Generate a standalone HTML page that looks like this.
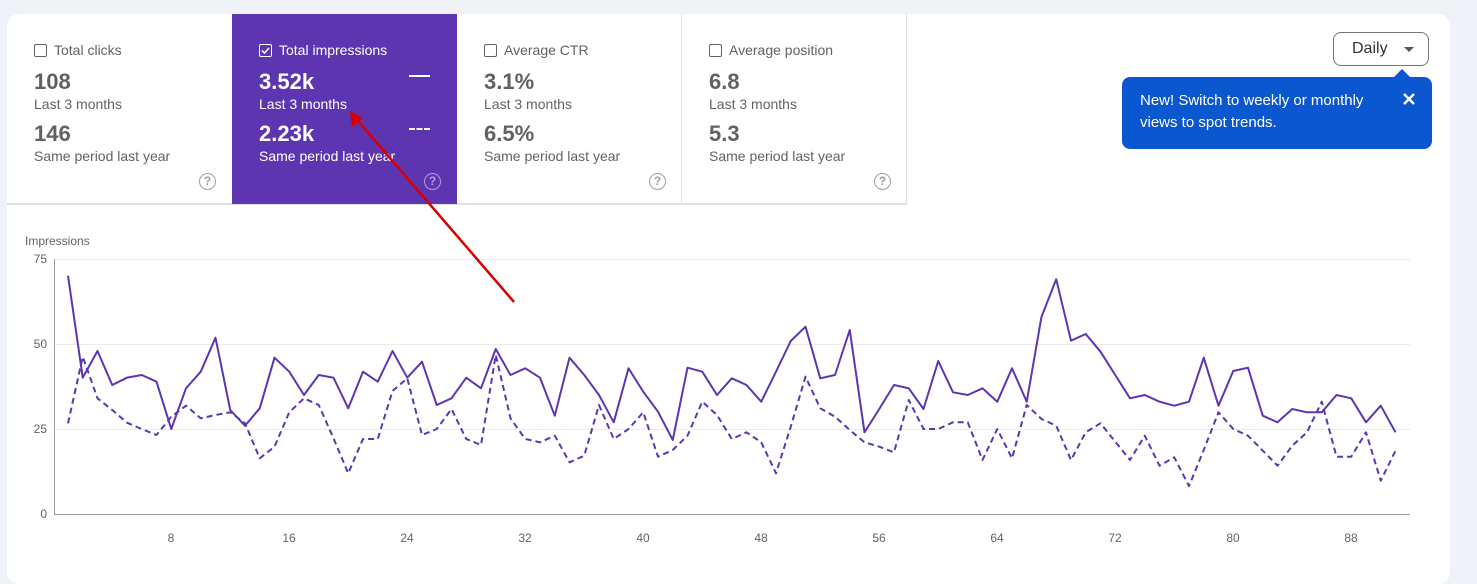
<!DOCTYPE html>
<html><head><meta charset="utf-8"><style>
body{margin:0;width:1477px;height:572px;background:#eff2f7;font-family:"Liberation Sans",Arial,sans-serif;position:relative;overflow:hidden}
.card{position:absolute;left:7px;top:14px;width:1443px;height:570px;background:#fff;border-radius:12px}
.tile{position:absolute;top:14px;height:190px;width:225px;box-sizing:border-box;color:#5f6368}
.t{position:absolute;left:27px;top:28px;font-size:14px;}
.cb{display:inline-block;width:11px;height:11px;border:1.3px solid #5f6368;border-radius:2px;vertical-align:-2px;margin-right:7px}
.n{position:absolute;left:27px;font-size:22px;font-weight:bold;color:#616161}
.l{position:absolute;left:27px;font-size:14px}
.q{position:absolute;left:192px;top:159px;width:15px;height:15px;border:1.6px solid #9e9e9e;border-radius:50%;font-size:12px;font-weight:bold;text-align:center;line-height:15px;color:#9e9e9e}
.pur{background:#5e35b1;color:#fff}
.pur .n,.pur .l{color:#fff}
.pur .cb{border-color:#fff}
</style></head><body>
<div class="card"></div>
<div class="tile" style="left:7px;border-bottom:1px solid #e0e0e0">
 <div class="t"><span class="cb"></span>Total clicks</div>
 <div class="n" style="top:55px">108</div><div class="l" style="top:82px">Last 3 months</div>
 <div class="n" style="top:107px">146</div><div class="l" style="top:134px">Same period last year</div>
 <div class="q">?</div></div>
<div class="tile pur" style="left:232px">
 <div class="t"><span class="cb" style="position:relative"><svg width="11" height="11" style="position:absolute;left:0;top:0"><path d="M2 5.5l2.5 2.5 4.5-5" stroke="#fff" stroke-width="1.5" fill="none"/></svg></span>Total impressions</div>
 <div class="n" style="top:55px">3.52k</div><div class="l" style="top:82px">Last 3 months</div>
 <div class="n" style="top:107px">2.23k</div><div class="l" style="top:134px">Same period last year</div>
 <div style="position:absolute;left:177px;top:61px;width:21px;height:2px;background:#fff"></div>
 <div style="position:absolute;left:177px;top:114px;width:21px;height:0;border-top:2px dashed #fff"></div>
 <div class="q" style="border-color:#b39ddb;color:#b39ddb">?</div></div>
<div class="tile" style="left:457px;border-bottom:1px solid #e0e0e0;border-right:1px solid #e0e0e0">
 <div class="t"><span class="cb"></span>Average CTR</div>
 <div class="n" style="top:55px">3.1%</div><div class="l" style="top:82px">Last 3 months</div>
 <div class="n" style="top:107px">6.5%</div><div class="l" style="top:134px">Same period last year</div>
 <div class="q">?</div></div>
<div class="tile" style="left:682px;border-bottom:1px solid #e0e0e0;border-right:1px solid #e0e0e0">
 <div class="t"><span class="cb"></span>Average position</div>
 <div class="n" style="top:55px">6.8</div><div class="l" style="top:82px">Last 3 months</div>
 <div class="n" style="top:107px">5.3</div><div class="l" style="top:134px">Same period last year</div>
 <div class="q">?</div></div>
<div style="position:absolute;left:7px;top:204px;width:900px;height:1px;background:#e0e0e0"></div>

<div style="position:absolute;left:1333px;top:32px;width:96px;height:34px;border:1px solid #757575;border-radius:8px;box-sizing:border-box;font-size:16px;color:#333;line-height:32px;padding-left:18px">Daily<span style="position:absolute;left:70px;top:14px;width:0;height:0;border-left:5px solid transparent;border-right:5px solid transparent;border-top:5px solid #555"></span></div>
<div style="position:absolute;left:1122px;top:77px;width:310px;height:72px;background:#0b57d0;border-radius:8px;color:#fff;font-size:15px;line-height:22px;box-sizing:border-box;padding:13px 0 0 18px">New! Switch to weekly or monthly<br>views to spot trends.
 <div style="position:absolute;left:272px;top:-8px;width:0;height:0;border-left:8px solid transparent;border-right:8px solid transparent;border-bottom:8px solid #0b57d0"></div>
 <svg style="position:absolute;left:280px;top:15px" width="14" height="14"><path d="M2 2L12 12M12 2L2 12" stroke="#fff" stroke-width="2.4"/></svg></div>

<svg style="position:absolute;left:0;top:0" width="1477" height="572">
 <text x="25" y="245" font-size="12" fill="#5f6368" font-family="Liberation Sans">Impressions</text>
 <g font-size="12" fill="#5f6368" text-anchor="end" font-family="Liberation Sans">
  <text x="47" y="263">75</text><text x="47" y="348">50</text><text x="47" y="433">25</text><text x="47" y="518">0</text></g>
 <g stroke="#ebebeb" stroke-width="1"><line x1="55" y1="259.5" x2="1410" y2="259.5"/><line x1="55" y1="344.5" x2="1410" y2="344.5"/><line x1="55" y1="429.5" x2="1410" y2="429.5"/></g>
 <line x1="54.5" y1="259" x2="54.5" y2="515" stroke="#9e9e9e"/>
 <line x1="54" y1="514.5" x2="1410" y2="514.5" stroke="#9e9e9e"/>
 <g font-size="12" fill="#5f6368" text-anchor="middle" font-family="Liberation Sans">
  <text x="171" y="542">8</text><text x="289" y="542">16</text><text x="407" y="542">24</text><text x="525" y="542">32</text><text x="643" y="542">40</text><text x="761" y="542">48</text><text x="879" y="542">56</text><text x="997" y="542">64</text><text x="1115" y="542">72</text><text x="1233" y="542">80</text><text x="1351" y="542">88</text></g>
 <g transform="translate(68,0) scale(14.75,1)" fill="none" stroke="#5e35b1" stroke-width="2" stroke-linejoin="round">
  <polyline vector-effect="non-scaling-stroke" points="0,275.7 1,377.7 2,351 3,385 4,377.7 5,375 6,381.7 7,429 8,388.3 9,371.7 10,337.7 11,410 12,425.7 13,408.3 14,357.7 15,371.7 16,395 17,375 18,377.7 19,408.3 20,371.7 21,381.7 22,351 23,377.7 24,361.7 25,405 26,398.3 27,377.7 28,388.3 29,349 30,375 31,368.3 32,377.7 33,415.7 34,357.7 35,375 36,395 37,422.3 38,368.3 39,391.7 40,411.7 41,440 42,367.7 43,371.7 44,395 45,378.3 46,385 47,401.7 48,371.7 49,341 50,326.7 51,378.3 52,375 53,330 54,432.3 55,409 56,385 57,388.3 58,409 59,361 60,392.3 61,395 62,388.3 63,401.7 64,368.3 65,401.7 66,316.7 67,279.3 68,340.7 69,334 70,351.7 71,375 72,398.3 73,395 74,401.7 75,405.7 76,401.7 77,357.7 78,405.7 79,371 80,367.7 81,415.7 82,422.3 83,409 84,412.3 85,412.3 86,395 87,398.3 88,422.3 89,405.7 90,432.3"/>
  <polyline vector-effect="non-scaling-stroke" stroke-dasharray="6,4" points="0,423.3 1,356.7 2,398.3 3,410 4,422.7 5,429 6,435 7,416.7 8,405.7 9,418.3 10,415 11,412.3 12,423.3 13,458.3 14,446.7 15,412.3 16,398.3 17,405 18,438.3 19,473.3 20,439 21,439 22,391 23,378.3 24,435 25,429 26,409 27,439 28,445 29,355 30,418.3 31,439 32,442.3 33,435.7 34,462.3 35,455.7 36,405 37,439 38,429 39,412.3 40,456.7 41,450 42,435.7 43,401.7 44,415 45,439 46,432.3 47,442.3 48,473.3 49,426.7 50,376.7 51,408.3 52,416.7 53,430 54,442.3 55,446.7 56,452.3 57,400 58,429 59,429 60,422.3 61,422.3 62,460 63,429 64,458.3 65,405 66,419 67,425.7 68,460 69,432.3 70,423.3 71,441.7 72,460 73,435.7 74,465.7 75,457.3 76,486 77,450 78,412.3 79,429 80,435.7 81,450.7 82,465.7 83,445.7 84,432.3 85,401.7 86,456.7 87,456.7 88,432.3 89,480.7 90,450.7"/>
 </g>
 <line x1="514" y1="302" x2="358" y2="121" stroke="#d50000" stroke-width="2.5"/>
 <path d="M350 111 L352 127 L363 118 Z" fill="#d50000"/>
</svg>
</body></html>
